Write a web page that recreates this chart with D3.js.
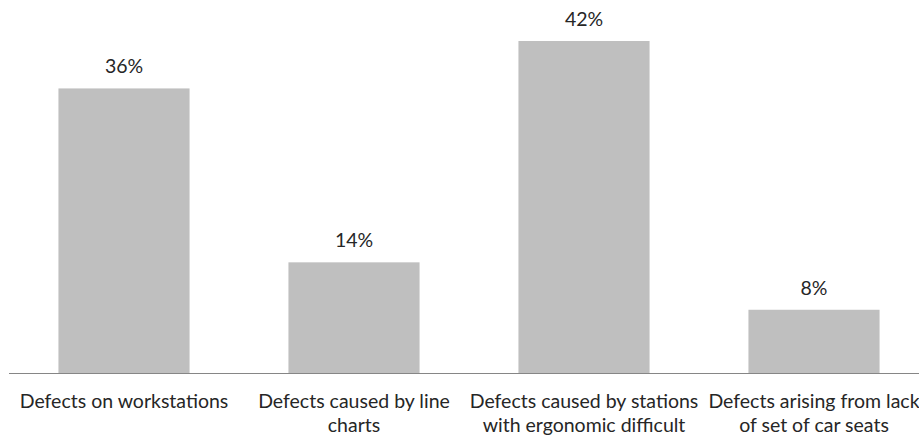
<!DOCTYPE html>
<html>
<head>
<meta charset="utf-8">
<script src="https://cdn.jsdelivr.net/npm/d3@7"></script>
<style>
  html, body { margin: 0; padding: 0; background: #fff; overflow: hidden; }
  svg { display: block; }
  text { font-family: Lato, "Open Sans", sans-serif; fill: #262626; }
</style>
</head>
<body>
<svg id="chart" width="919" height="437"></svg>
<script>
// Share of defects by cause (percent); "\n" marks the label line break
const categories = [
  "Defects on workstations",
  "Defects caused by line\ncharts",
  "Defects caused by stations\nwith ergonomic difficult",
  "Defects arising from lack\nof set of car seats"
];
const values = [36, 14, 42, 8];

const svg = d3.select("#chart");
const W = 919;
const baseY = 373;

const x = d3.scaleBand()
  .domain(categories)
  .range([9, 929])
  .paddingInner(0.43)
  .paddingOuter(0.215);

const y = d3.scaleLinear()
  .domain([0, 42])
  .range([baseY, 41]);

// Bars
svg.append("g")
  .selectAll("rect")
  .data(values)
  .join("rect")
  .attr("x", (d, i) => x(categories[i]))
  .attr("y", d => y(d))
  .attr("width", x.bandwidth())
  .attr("height", d => baseY - y(d))
  .attr("fill", "#bfbfbf");

// Value labels
svg.append("g")
  .selectAll("text")
  .data(values)
  .join("text")
  .attr("x", (d, i) => x(categories[i]) + x.bandwidth() / 2)
  .attr("y", d => y(d) - 15)
  .attr("text-anchor", "middle")
  .attr("font-size", 19.5)
  .text(d => d + "%");

// Category axis
const axis = svg.append("g")
  .attr("transform", `translate(0,${baseY})`)
  .call(d3.axisBottom(x).tickSize(0).tickPadding(0));
axis.select(".domain").attr("stroke", "#868686").attr("stroke-width", 1)
  .attr("d", `M9,0.5H${W}`);

// Two-line tick labels
axis.selectAll(".tick text")
  .attr("font-size", 19.5)
  .attr("font-family", "Lato, 'Open Sans', sans-serif")
  .attr("fill", "#262626")
  .attr("y", 35)
  .attr("dy", 0)
  .each(function (d) {
    const t = d3.select(this);
    t.text(null);
    d.split("\n").forEach((line, i) => {
      t.append("tspan").attr("x", 0).attr("dy", i ? 24 : 0).text(line);
    });
  });
</script>
</body>
</html>
